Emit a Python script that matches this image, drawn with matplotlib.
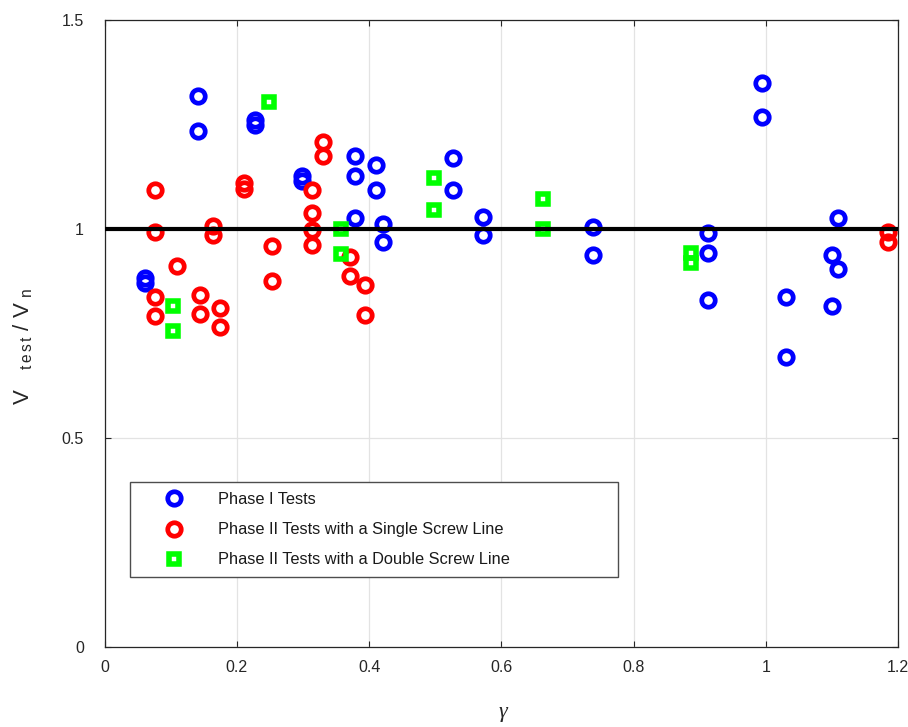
import matplotlib
matplotlib.use('Agg')
import matplotlib.pyplot as plt
from matplotlib.markers import MarkerStyle

plt.rcParams['font.family'] = ['Liberation Sans', 'DejaVu Sans']
plt.rcParams['mathtext.fontset'] = 'custom'
plt.rcParams['mathtext.rm'] = 'Liberation Sans'

# gamma vs V_test / V_n, phase I tests
phase1_gamma = [0.0615, 0.0615, 0.1416, 0.1416, 0.228, 0.228, 0.299, 0.299,
                0.379, 0.379, 0.379, 0.410, 0.410, 0.4217, 0.4217, 0.527, 0.527,
                0.572, 0.572, 0.738, 0.738, 0.912, 0.912, 0.912, 0.995, 0.995,
                1.031, 1.031, 1.109, 1.100, 1.109, 1.100]
phase1_ratio = [0.883, 0.871, 1.319, 1.235, 1.262, 1.250, 1.126, 1.114,
                1.174, 1.128, 1.027, 1.153, 1.094, 1.012, 0.970, 1.171, 1.094,
                1.029, 0.986, 1.006, 0.939, 0.990, 0.943, 0.830, 1.350, 1.267,
                0.837, 0.695, 1.027, 0.937, 0.904, 0.816]

# phase II, single screw line
single_gamma = [0.076, 0.076, 0.0766, 0.0766, 0.110, 0.1436, 0.1436, 0.164, 0.164,
                0.175, 0.175, 0.211, 0.211, 0.253, 0.253, 0.313, 0.313, 0.313,
                0.313, 0.330, 0.330, 0.371, 0.371, 0.393, 0.393, 1.185, 1.185]
single_ratio = [1.094, 0.993, 0.837, 0.793, 0.912, 0.843, 0.798, 1.008, 0.987,
                0.812, 0.767, 1.110, 1.096, 0.959, 0.876, 1.094, 1.038, 0.998,
                0.963, 1.209, 1.174, 0.933, 0.888, 0.867, 0.794, 0.994, 0.970]

# phase II, double screw line
double_gamma = [0.103, 0.103, 0.249, 0.357, 0.357, 0.498, 0.498, 0.663, 0.663,
                0.887, 0.887]
double_ratio = [0.817, 0.756, 1.303, 1.001, 0.940, 1.123, 1.045, 1.073, 1.000,
                0.944, 0.920]

labels = ['Phase I Tests',
          'Phase II Tests with a Single Screw Line',
          'Phase II Tests with a Double Screw Line']

xticks = [0, 0.2, 0.4, 0.6, 0.8, 1, 1.2]
yticks = [0, 0.5, 1, 1.5]

dark = (0.15, 0.15, 0.15)

fig = plt.figure(figsize=(9.08, 7.27), dpi=100)
ax = fig.add_axes([0.1153, 0.1096, 0.8737, 0.8629])

circ = dict(linestyle='none', marker='o', markersize=9.7,
            markeredgewidth=3.4, markerfacecolor='none')
ax.plot(phase1_gamma, phase1_ratio, markeredgecolor='#0000ff', label=labels[0], **circ)
ax.plot(single_gamma, single_ratio, markeredgecolor='#ff0000', label=labels[1], **circ)
ax.plot(double_gamma, double_ratio, linestyle='none',
        marker=MarkerStyle('s', joinstyle='miter'), markersize=7.5,
        markeredgewidth=4.0, markerfacecolor='none', markeredgecolor='#00ff00',
        label=labels[2])

# reference line at V_test / V_n = 1
ax.axhline(1, color='k', linewidth=3, zorder=5)

ax.set_xlim(0, 1.2)
ax.set_ylim(0, 1.5)
ax.set_xticks(xticks)
ax.set_xticklabels(['0', '0.2', '0.4', '0.6', '0.8', '1', '1.2'])
ax.set_yticks(yticks)
ax.set_yticklabels(['0', '0.5', '1', '1.5'])
ax.grid(True, color=(0.89, 0.89, 0.89), linewidth=0.9)
ax.set_axisbelow(True)

ax.tick_params(direction='in', length=4, width=0.8, color=dark,
               labelcolor=dark, labelsize=11.5, top=True, right=True)
ax.tick_params(axis='x', pad=9)
ax.tick_params(axis='y', pad=15)
for sp in ax.spines.values():
    sp.set_color(dark)
    sp.set_linewidth(0.9)

ax.set_xlabel('γ', family='Liberation Serif', style='italic', fontsize=16,
              color=dark, va='center')
ax.xaxis.set_label_coords(0.502, -0.104)
ax.set_ylabel(r'V$_{\ \ \ \ \mathrm{t\,e\,s\,t}}$ / V$_{\ \mathrm{n}}$', fontsize=16,
              color=dark, va='center')
ax.yaxis.set_label_coords(-0.103, 0.48)

leg = ax.legend(loc='upper left', bbox_to_anchor=(0.0319, 0.0, 0.615, 0.2635),
                mode='expand', borderaxespad=0, fontsize=11.8, numpoints=1,
                fancybox=False, framealpha=1, edgecolor=(0.3, 0.3, 0.3),
                borderpad=0.62, labelspacing=0.92, handlelength=4.15,
                handletextpad=0.6)
leg.get_frame().set_linewidth(1.0)
for t in leg.get_texts():
    t.set_color((0.1, 0.1, 0.1))

fig.savefig('out.png', dpi=100)
